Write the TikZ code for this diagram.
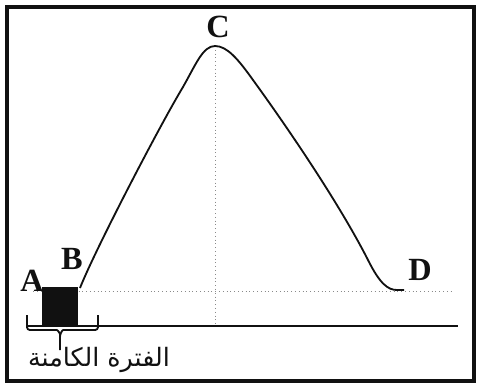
\documentclass[tikz,border=0pt]{standalone}
\usepackage{fontspec}
\usepackage{tikz}
\usetikzlibrary{positioning,calc}
\setmainfont{Liberation Serif}
\newfontfamily\arabicfont[Script=Arabic]{DejaVu Sans}
\TeXXeTstate=1
\definecolor{Ink}{HTML}{111111}
\definecolor{Dots}{HTML}{8A8A8A}

\begin{document}
\begin{tikzpicture}[x=0.025cm,y=-0.025cm,
  frame/.style={draw=Ink,line width=2.2pt},
  curve/.style={draw=Ink,line width=1.3pt,line join=round},
  axisline/.style={draw=Ink,line width=1.2pt},
  guide/.style={draw=Dots,line width=0.7pt,dotted},
  brace/.style={draw=Ink,line width=1.3pt},
  pt/.style={font=\fontsize{23}{23}\selectfont\bfseries,inner sep=0pt,text=Ink},
  every node/.style={text=Ink}]
  \useasboundingbox (0,0) rectangle (479,386);
  \fill[white] (0,0) rectangle (479,386);
  \draw[frame] (7,7) rectangle (474,381);
  \coordinate (B0) at (80,288);
  \coordinate (C0) at (215,46);
  \coordinate (D0) at (404,290);
  \coordinate (base0) at (27,326);
  \coordinate (base1) at (458,326);
  \coordinate (dot0) at (33,291);
  \coordinate (dot1) at (453,291);
  \draw[guide] (dot0) -- (dot1);
  \draw[guide] (C0) -- (C0 |- base0);
  \draw[axisline] (base0) -- (base1);
  \fill[Ink] (42,287) rectangle (78,327);
  \draw[curve] (B0) .. controls (95,250) and (160,125) .. (183,87)
    .. controls (196,64) and (203,46) .. (C0)
    .. controls (227,46) and (238,59) .. (253,80)
    .. controls (290,131) and (340,205) .. (368,260)
    .. controls (380,284) and (388,290) .. (397,290) -- (D0);
  \draw[brace,rounded corners=2pt] (27,315) |- (54,330) to[out=0,in=90] (60,337)
    -- (60,350);
  \draw[brace,rounded corners=2pt] (60,337) to[out=90,in=180] (66,330) -| (98,315);
  \node[pt] (A) at (32,281) {A};
  \node[pt] (B) at (72,259) {B};
  \node[pt] (C) at (218,27) {C};
  \node[pt] (D) at (420,270) {D};
  \node[font=\fontsize{18}{18}\selectfont,inner sep=0pt] (latent)
    at (99,360) {\arabicfont\beginR الفترة الكامنة\endR};
\end{tikzpicture}
\end{document}
